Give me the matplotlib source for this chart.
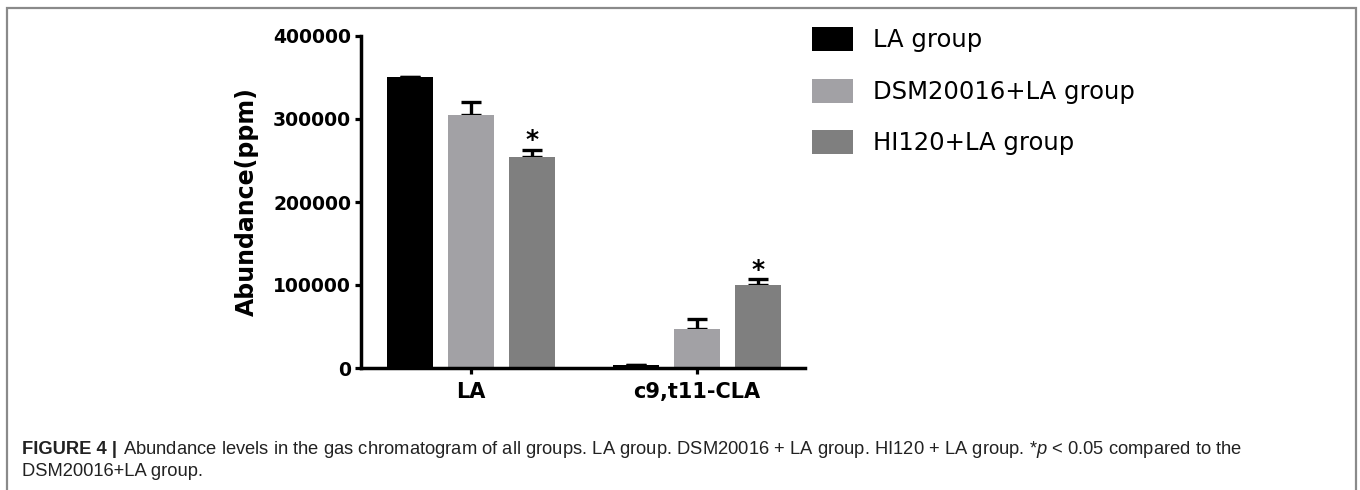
import numpy as np
import matplotlib
matplotlib.use('Agg')
import matplotlib.pyplot as plt
from matplotlib.patches import Patch, Rectangle

# Data
compounds = ['LA', 'c9,t11-CLA']
groups = ['LA group', 'DSM20016+LA group', 'HI120+LA group']
la_group = [350000, 3500]
la_group_err = [500, 300]
dsm_group = [305000, 47000]
dsm_group_err = [16000, 12000]
hi_group = [254000, 100000]
hi_group_err = [9000, 7000]
significant = [False, False, True]   # marked with * per group (vs DSM20016+LA)

colors = ['#000000', '#a2a1a5', '#7f7f7f']

plt.rcParams['mathtext.fontset'] = 'custom'
plt.rcParams['mathtext.it'] = 'Liberation Sans:italic'
plt.rcParams['mathtext.rm'] = 'Liberation Sans'

fig = plt.figure(figsize=(13.6, 4.9), dpi=100)
W, H = 1360., 490.
ax = fig.add_axes([361/W, 1 - 368/H, 444/W, 332/H])

x = np.arange(len(compounds))
width = 0.2035
offset = 0.27
series = [(la_group, la_group_err), (dsm_group, dsm_group_err), (hi_group, hi_group_err)]
for i, (vals, errs) in enumerate(series):
    xpos = x + (i - 1) * offset
    ax.bar(xpos, vals, width, color=colors[i], zorder=2)
    # error bars behind the bars, so only the upper half shows (GraphPad style)
    ax.errorbar(xpos, vals, yerr=[np.zeros(len(vals)), errs], fmt='none',
                ecolor='black', elinewidth=2.4, capsize=7.5, capthick=2.4, zorder=1)
    if significant[i]:
        for xp, v, e in zip(xpos, vals, errs):
            ax.annotate('*', (xp, v + e), xytext=(0, -2), textcoords='offset points',
                        ha='center', va='bottom', fontsize=18, fontweight='bold',
                        family='DejaVu Sans')

ax.set_xlim(-0.487, 1.478)
ax.set_ylim(0, 400000)
ax.set_yticks([0, 100000, 200000, 300000, 400000])
ax.set_xticks(x)
ax.set_xticklabels(compounds, fontsize=15, fontweight='bold', family='DejaVu Sans')
for lab in ax.get_yticklabels():
    lab.set_fontsize(13.5)
    lab.set_fontweight('bold')
    lab.set_family('DejaVu Sans')
ax.tick_params(axis='both', width=2.3, length=4, color='black')
ax.tick_params(axis='x', pad=6)
ax.tick_params(axis='y', pad=3)
for side in ['top', 'right']:
    ax.spines[side].set_visible(False)
for side in ['left', 'bottom']:
    ax.spines[side].set_linewidth(2.5)
ax.set_ylabel('Abundance(ppm)', fontsize=17, fontweight='bold', family='DejaVu Sans', labelpad=10)

handles = [Patch(facecolor=c, edgecolor='none') for c in colors]
fig.legend(handles, groups, loc='upper left', bbox_to_anchor=(812/W, 1 - 27/H),
           frameon=False, handlelength=1.7, handleheight=1.15,
           labelspacing=1.08, handletextpad=0.8, borderpad=0, borderaxespad=0,
           prop={'family': 'DejaVu Sans', 'size': 17.5})

# frame around the figure panel
fig.patches.append(Rectangle((7/W, -0.05), 1349/W, 1.05 - 8/H, transform=fig.transFigure,
                             fill=False, edgecolor='#8a8a8a', linewidth=1.6))

# caption
fig.text(22/W, 1 - 454/H, 'FIGURE 4 |', fontsize=13.2, fontweight='bold',
         family='Liberation Sans', color='#222222', va='baseline')
fig.text(123/W, 1 - 454/H,
         'Abundance levels in the gas chromatogram of all groups. LA group. DSM20016 + LA group. '
         'HI120 + LA group. *$p$ < 0.05 compared to the',
         fontsize=13.2, family='Liberation Sans', color='#222222', va='baseline')
fig.text(22/W, 1 - 476/H, 'DSM20016+LA group.', fontsize=13.2, family='Liberation Sans',
         color='#222222', va='baseline')

fig.savefig('out.png', dpi=100)
plt.close(fig)
